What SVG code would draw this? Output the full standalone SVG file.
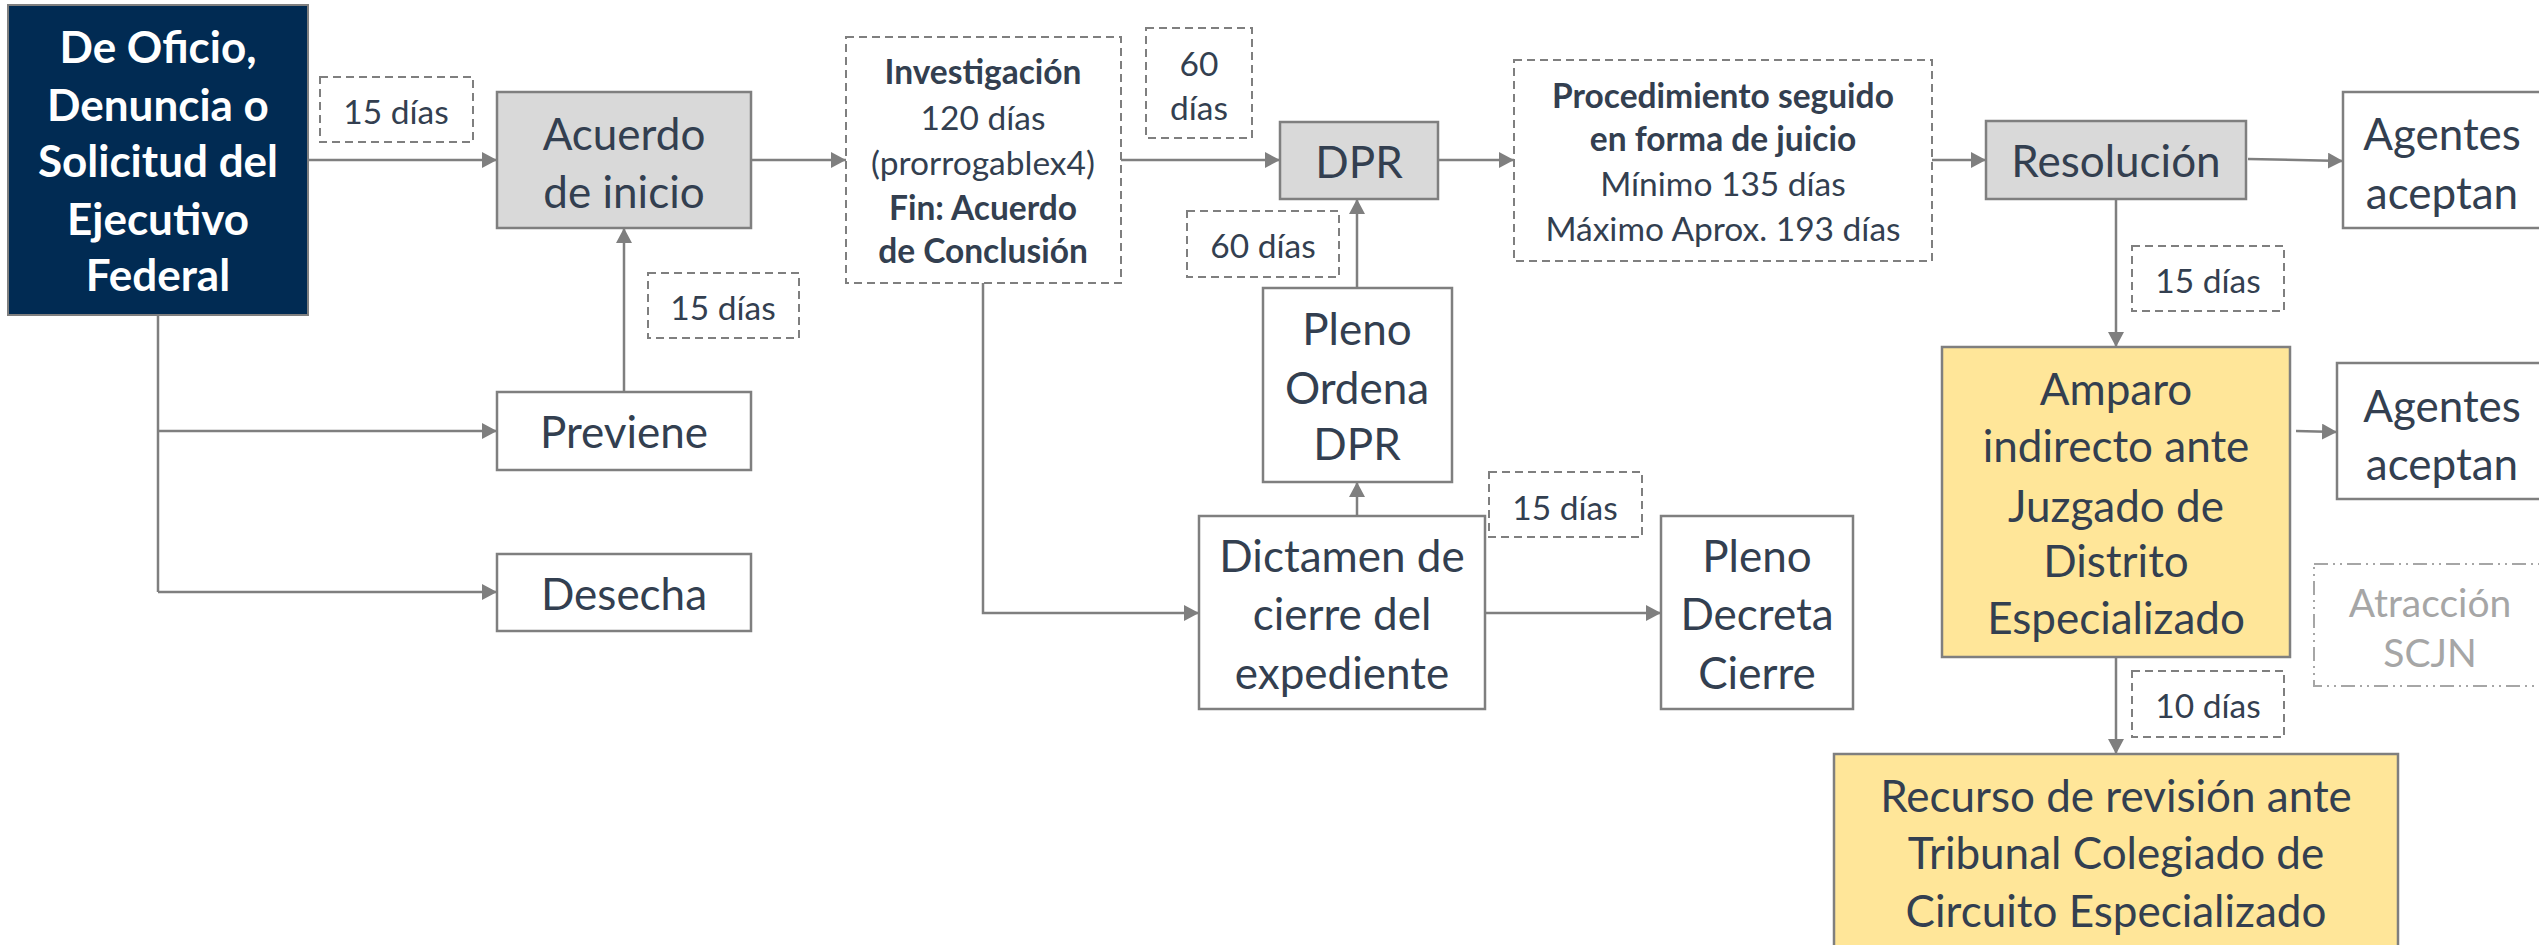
<svg xmlns="http://www.w3.org/2000/svg" width="2539" height="945" viewBox="0 0 2539 945">
<style>
text{font-family:Lato,"Open Sans","Liberation Sans",sans-serif;text-anchor:middle;dominant-baseline:central;fill:#333F50}
.n{font-size:44px}
.s{font-size:33.5px}
.b{font-weight:bold}
.w{fill:#FFFFFF;font-weight:bold;font-size:44px}
.g{fill:#A6A6A6;font-size:39px}
.box{fill:#FFFFFF;stroke:#7F7F7F;stroke-width:2.5}
.gray{fill:#D9D9D9;stroke:#7F7F7F;stroke-width:2.5}
.yel{fill:#FFE699;stroke:#7F7F7F;stroke-width:2.5}
.dash{fill:#FFFFFF;stroke:#7F7F7F;stroke-width:2;stroke-dasharray:8 5}
.dd{fill:#FFFFFF;stroke:#A6A6A6;stroke-width:2;stroke-dasharray:14 5 2 5 2 5}
.c{fill:none;stroke:#7F7F7F;stroke-width:2.5;marker-end:url(#ah)}
.l{fill:none;stroke:#7F7F7F;stroke-width:2.5}
</style>
<defs>
<marker id="ah" markerUnits="userSpaceOnUse" markerWidth="16" markerHeight="16" refX="15" refY="8" orient="auto">
<path d="M0,0 L15,8 L0,16 z" fill="#7F7F7F"/>
</marker>
</defs>
<rect width="2539" height="945" fill="#FFFFFF"/>
<g id="connectors">
<path class="c" d="M308,160 H497"/>
<path class="c" d="M751,160 H846"/>
<path class="l" d="M158,315 V592"/>
<path class="c" d="M158,592 H497"/>
<path class="c" d="M158,431 H497"/>
<path class="c" d="M624,392 V228"/>
<path class="c" d="M1121,160 H1280"/>
<path class="c" d="M1438,160 H1514"/>
<path class="c" d="M1357,288 V199"/>
<path class="c" d="M983,283 V613 H1199"/>
<path class="c" d="M1357,519 V482"/>
<path class="c" d="M1485,613 H1661"/>
<path class="c" d="M1932,160 H1986"/>
<path class="c" d="M2248,159 L2343,161"/>
<path class="c" d="M2116,199 V347"/>
<path class="c" d="M2296,431 L2337,432"/>
<path class="c" d="M2116,657 V754"/>
</g>
<g id="n-origen">
<rect x="8" y="5" width="300" height="310" fill="#012B53" stroke="#7F7F7F" stroke-width="2"/>
<text class="w" x="158" y="46">De Oficio,</text>
<text class="w" x="158" y="104">Denuncia o</text>
<text class="w" x="158" y="160">Solicitud del</text>
<text class="w" x="158" y="218">Ejecutivo</text>
<text class="w" x="158" y="274">Federal</text>
</g>
<g id="l-15a"><rect class="dash" x="320" y="77" width="153" height="65"/><text class="s" x="396" y="111">15 días</text></g>
<g id="n-acuerdo"><rect class="gray" x="497" y="92" width="254" height="136"/><text class="n" x="624" y="133">Acuerdo</text><text class="n" x="624" y="191">de inicio</text></g>
<g id="l-15b"><rect class="dash" x="648" y="273" width="151" height="65"/><text class="s" x="723" y="307">15 días</text></g>
<g id="n-previene"><rect class="box" x="497" y="392" width="254" height="78"/><text class="n" x="624" y="431">Previene</text></g>
<g id="n-desecha"><rect class="box" x="497" y="554" width="254" height="77"/><text class="n" x="624" y="593">Desecha</text></g>
<g id="n-investigacion"><rect class="dash" x="846" y="37" width="275" height="246"/>
<text class="s b" x="983" y="71">Investigación</text>
<text class="s" x="983" y="117">120 días</text>
<text class="s" x="983" y="162">(prorrogablex4)</text>
<text class="s b" x="983" y="207">Fin: Acuerdo</text>
<text class="s b" x="983" y="250">de Conclusión</text></g>
<g id="l-60a"><rect class="dash" x="1146" y="28" width="106" height="110"/><text class="s" x="1199" y="63">60</text><text class="s" x="1199" y="107">días</text></g>
<g id="n-dpr"><rect class="gray" x="1280" y="122" width="158" height="77"/><text class="n" x="1359" y="161">DPR</text></g>
<g id="l-60b"><rect class="dash" x="1187" y="211" width="152" height="66"/><text class="s" x="1263" y="245">60 días</text></g>
<g id="n-pleno-ordena"><rect class="box" x="1263" y="288" width="189" height="194"/><text class="n" x="1357" y="328">Pleno</text><text class="n" x="1357" y="387">Ordena</text><text class="n" x="1357" y="443">DPR</text></g>
<g id="l-15c"><rect class="dash" x="1489" y="472" width="153" height="65"/><text class="s" x="1565" y="507">15 días</text></g>
<g id="n-dictamen"><rect class="box" x="1199" y="516" width="286" height="193"/><text class="n" x="1342" y="555">Dictamen de</text><text class="n" x="1342" y="613">cierre del</text><text class="n" x="1342" y="672">expediente</text></g>
<g id="n-pleno-decreta"><rect class="box" x="1661" y="516" width="192" height="193"/><text class="n" x="1757" y="555">Pleno</text><text class="n" x="1757" y="613">Decreta</text><text class="n" x="1757" y="672">Cierre</text></g>
<g id="n-procedimiento"><rect class="dash" x="1514" y="60" width="418" height="201"/>
<text class="s b" x="1723" y="95">Procedimiento seguido</text>
<text class="s b" x="1723" y="138">en forma de juicio</text>
<text class="s" x="1723" y="183">Mínimo 135 días</text>
<text class="s" x="1723" y="228">Máximo Aprox. 193 días</text></g>
<g id="n-resolucion"><rect class="gray" x="1986" y="121" width="260" height="78"/><text class="n" x="2116" y="160">Resolución</text></g>
<g id="n-agentes1"><rect class="box" x="2343" y="92" width="210" height="136"/><text class="n" x="2442" y="133">Agentes</text><text class="n" x="2442" y="192">aceptan</text></g>
<g id="l-15d"><rect class="dash" x="2132" y="246" width="152" height="65"/><text class="s" x="2208" y="280">15 días</text></g>
<g id="n-amparo"><rect class="yel" x="1942" y="347" width="348" height="310"/>
<text class="n" x="2116" y="388">Amparo</text>
<text class="n" x="2116" y="445">indirecto ante</text>
<text class="n" x="2116" y="505">Juzgado de</text>
<text class="n" x="2116" y="560">Distrito</text>
<text class="n" x="2116" y="617">Especializado</text></g>
<g id="n-agentes2"><rect class="box" x="2337" y="363" width="215" height="136"/><text class="n" x="2442" y="405">Agentes</text><text class="n" x="2442" y="463">aceptan</text></g>
<g id="n-atraccion"><rect class="dd" x="2314" y="564" width="240" height="122"/><text class="g" x="2430" y="602">Atracción</text><text class="g" x="2430" y="652">SCJN</text></g>
<g id="l-10"><rect class="dash" x="2132" y="671" width="152" height="66"/><text class="s" x="2208" y="705">10 días</text></g>
<g id="n-recurso"><rect class="yel" x="1834" y="754" width="564" height="210"/>
<text class="n" x="2116" y="795">Recurso de revisión ante</text>
<text class="n" x="2116" y="852">Tribunal Colegiado de</text>
<text class="n" x="2116" y="910">Circuito Especializado</text></g>
</svg>
